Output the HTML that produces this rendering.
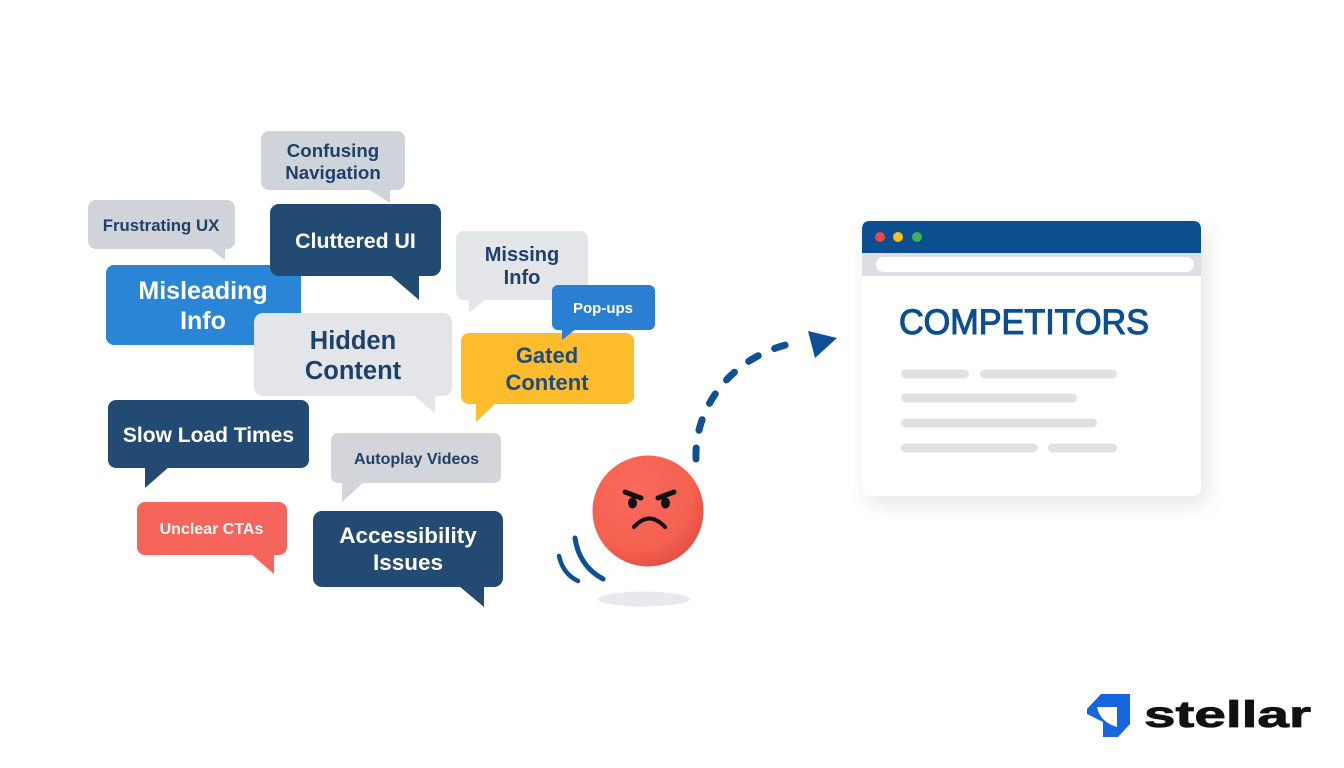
<!DOCTYPE html>
<html><head><meta charset="utf-8"><style>
html,body{margin:0;padding:0;background:#fff;}
svg{display:block;}
text{font-family:"Liberation Sans",Arial,sans-serif;font-weight:bold;text-anchor:middle;}
</style></head><body>
<svg width="1344" height="768" viewBox="0 0 1344 768" xmlns="http://www.w3.org/2000/svg">
<defs>
  <filter id="sh" x="-20%" y="-20%" width="140%" height="150%">
    <feDropShadow dx="6" dy="8" stdDeviation="10" flood-color="#000" flood-opacity="0.1"/>
  </filter>
  <radialGradient id="face" cx="0.38" cy="0.32" r="0.75">
    <stop offset="0" stop-color="#fa6a5d"/>
    <stop offset="0.7" stop-color="#f5604f"/>
    <stop offset="1" stop-color="#e04c44"/>
  </radialGradient>
</defs>
<rect width="1344" height="768" fill="#fff"/>

<!-- Confusing Navigation -->
<rect x="261" y="131" width="144" height="59" rx="8" fill="#cfd3da"/>
<polygon points="368,189 390,189 390,203" fill="#cfd3da"/>
<text x="333" y="157" font-size="18.7" fill="#1f4068">Confusing</text>
<text x="333" y="179" font-size="18.7" fill="#1f4068">Navigation</text>

<!-- Frustrating UX -->
<rect x="88" y="200" width="147" height="49" rx="8" fill="#d0d3d9"/>
<polygon points="209,248 225,248 225,260" fill="#d0d3d9"/>
<text x="161" y="231" font-size="16.8" fill="#1f4068">Frustrating UX</text>

<!-- Misleading Info -->
<rect x="106" y="265" width="195" height="80" rx="8" fill="#2b85d7"/>
<text x="203" y="299" font-size="25" fill="#fff">Misleading</text>
<text x="203" y="329" font-size="25" fill="#fff">Info</text>

<!-- Cluttered UI -->
<rect x="270" y="204" width="171" height="72" rx="9" fill="#224a72"/>
<polygon points="390,275 419,275 419,300" fill="#224a72"/>
<text x="355.5" y="248" font-size="21.3" fill="#fff">Cluttered UI</text>

<!-- Hidden Content -->
<rect x="254" y="313" width="198" height="83" rx="9" fill="#e4e5e9"/>
<polygon points="413,395 435,395 435,413" fill="#e4e5e9"/>
<text x="353" y="349" font-size="25.5" fill="#1f4068">Hidden</text>
<text x="353" y="379" font-size="25.5" fill="#1f4068">Content</text>

<!-- Missing Info -->
<rect x="456" y="231" width="132" height="69" rx="8" fill="#e4e5e9"/>
<polygon points="469,299 486,299 469,313" fill="#e4e5e9"/>
<text x="522" y="261" font-size="20" fill="#1f4068">Missing</text>
<text x="522" y="284" font-size="20" fill="#1f4068">Info</text>

<!-- Gated Content -->
<rect x="461" y="333" width="173" height="71" rx="8" fill="#fcbc2c"/>
<polygon points="476,403 496,403 476,422" fill="#fcbc2c"/>
<text x="547" y="363" font-size="22" fill="#1f4a7a">Gated</text>
<text x="547" y="390" font-size="22" fill="#1f4a7a">Content</text>

<!-- Pop-ups -->
<rect x="552" y="285" width="103" height="45" rx="6" fill="#2b7fd3"/>
<polygon points="562,329 576,329 562,340" fill="#2b7fd3"/>
<text x="603" y="313" font-size="15" fill="#fff">Pop-ups</text>

<!-- Slow Load Times -->
<rect x="108" y="400" width="201" height="68" rx="8" fill="#224a72"/>
<polygon points="145,467 169,467 145,488" fill="#224a72"/>
<text x="208.5" y="442" font-size="21" fill="#fff">Slow Load Times</text>

<!-- Autoplay Videos -->
<rect x="331" y="433" width="170" height="50" rx="7" fill="#d3d5da"/>
<polygon points="342,482 364,482 342,502" fill="#d3d5da"/>
<text x="416.5" y="464" font-size="16" fill="#1f4068">Autoplay Videos</text>

<!-- Unclear CTAs -->
<rect x="137" y="502" width="150" height="53" rx="8" fill="#f5655b"/>
<polygon points="251,554 274,554 274,574" fill="#f5655b"/>
<text x="211.5" y="534" font-size="16" fill="#fff">Unclear CTAs</text>

<!-- Accessibility Issues -->
<rect x="313" y="511" width="190" height="76" rx="9" fill="#224a72"/>
<polygon points="459,586 484,586 484,607" fill="#224a72"/>
<text x="408" y="543" font-size="22.5" fill="#fff">Accessibility</text>
<text x="408" y="570" font-size="22.5" fill="#fff">Issues</text>

<!-- Dashed arrow -->
<path d="M696,459 C694,405 735,352 800,342" fill="none" stroke="#0e4f95" stroke-width="7" stroke-linecap="round" stroke-dasharray="11 18"/>
<polygon points="808,331 837,338 815,358" fill="#0e4f95"/>

<!-- Emoji shadow -->
<ellipse cx="644" cy="599" rx="46" ry="7.5" fill="#e7e9ed"/>
<!-- motion arcs -->
<path d="M575,538 Q579,566 603,579" fill="none" stroke="#0e4f95" stroke-width="5" stroke-linecap="round"/>
<path d="M559,556 Q563,574 578,581" fill="none" stroke="#0e4f95" stroke-width="4.5" stroke-linecap="round"/>
<!-- face -->
<circle cx="648" cy="511" r="55.5" fill="url(#face)"/>
<line x1="625" y1="492" x2="641" y2="498" stroke="#111" stroke-width="5" stroke-linecap="round"/>
<ellipse cx="632.5" cy="503" rx="4.5" ry="5.5" fill="#111"/>
<line x1="674" y1="492" x2="658" y2="498" stroke="#111" stroke-width="5" stroke-linecap="round"/>
<ellipse cx="665.5" cy="503" rx="4.5" ry="5.5" fill="#111"/>
<path d="M634,527 Q649,510 665,527" fill="none" stroke="#111" stroke-width="4" stroke-linecap="round"/>

<!-- Browser window -->
<rect x="862" y="221" width="339" height="275" rx="8" fill="#fff" filter="url(#sh)"/>
<path d="M862,253 L862,229 Q862,221 870,221 L1193,221 Q1201,221 1201,229 L1201,253 Z" fill="#0c4f8e"/>
<rect x="862" y="253" width="339" height="23" fill="#dcdee3"/>
<rect x="876" y="257" width="318" height="15" rx="7.5" fill="#fff"/>
<circle cx="880" cy="237" r="5" fill="#e94a4a"/>
<circle cx="898" cy="237" r="5" fill="#f6c022"/>
<circle cx="917" cy="237" r="5" fill="#3bb05a"/>
<text x="1024" y="334" font-size="35" fill="#0b4f90" stroke="#0b4f90" stroke-width="1.1" textLength="250" lengthAdjust="spacingAndGlyphs" style="font-weight:normal">COMPETITORS</text>
<g fill="#e1e1e4">
<rect x="901" y="369.5" width="68" height="9" rx="4.5"/>
<rect x="980" y="369.5" width="137" height="9" rx="4.5"/>
<rect x="901" y="393.5" width="176" height="9" rx="4.5"/>
<rect x="901" y="418.5" width="196" height="9" rx="4.5"/>
<rect x="901" y="443.5" width="137" height="9" rx="4.5"/>
<rect x="1048" y="443.5" width="69" height="9" rx="4.5"/>
</g>

<!-- Stellar logo -->
<polygon points="1101,694 1130,694 1130,724 1118,737 1103,737 1103,722 1087,714 1087,709" fill="#1666e0"/>
<path d="M1097,707 L1117,707 L1117,727 Q1100,722 1097,707 Z" fill="#fff"/>
<text x="1144" y="727" font-size="37" fill="#111" stroke="#111" stroke-width="0.8" style="text-anchor:start" textLength="167" lengthAdjust="spacingAndGlyphs">stellar</text>
</svg>
</body></html>
